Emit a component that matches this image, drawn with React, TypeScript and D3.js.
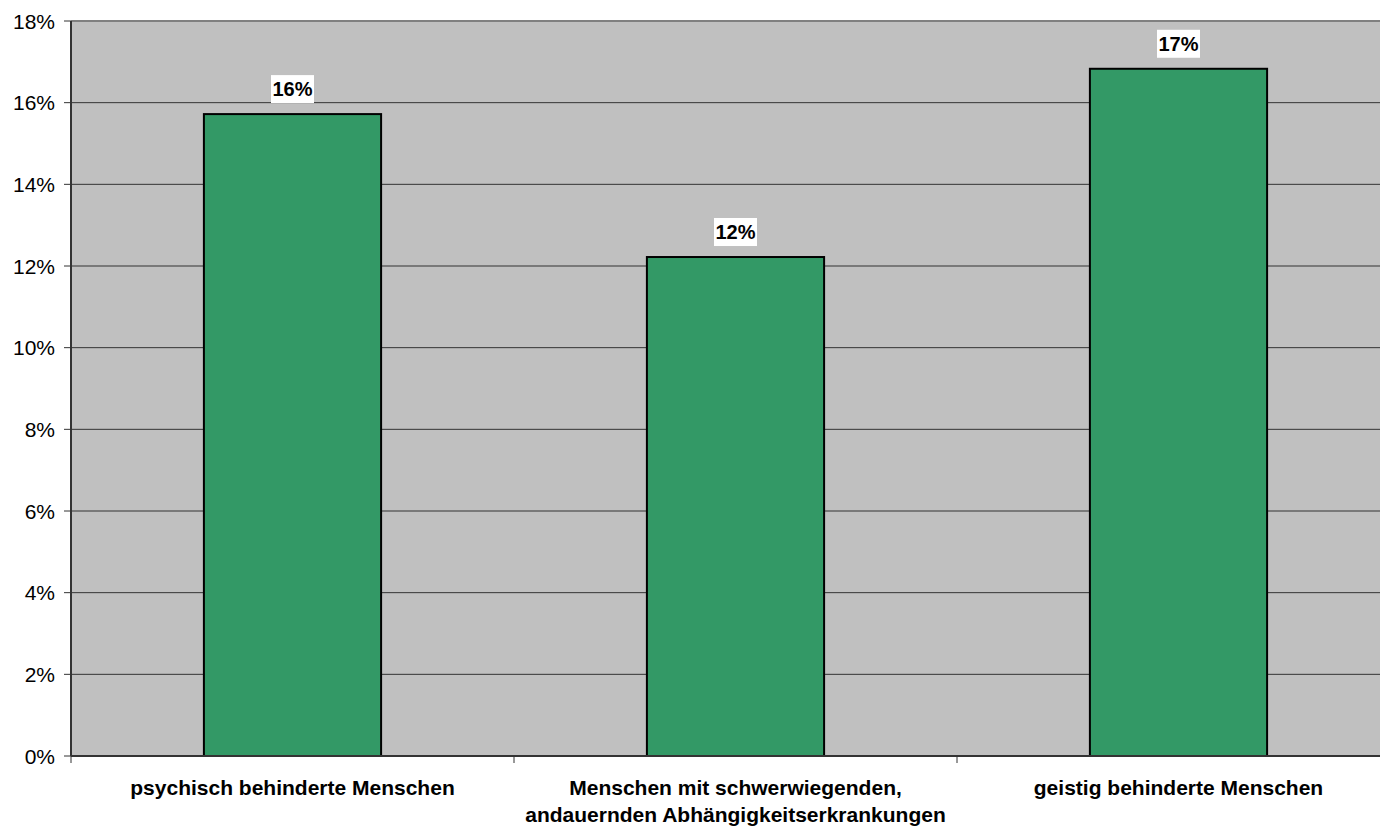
import React from "react";
import * as d3 from "d3";

const categories: string[][] = [
  ["psychisch behinderte Menschen"],
  ["Menschen mit schwerwiegenden,", "andauernden Abhängigkeitserkrankungen"],
  ["geistig behinderte Menschen"],
];
const values: number[] = [15.72, 12.22, 16.83];
const valueLabels: string[] = ["16%", "12%", "17%"];
const yTicks: number[] = [0, 2, 4, 6, 8, 10, 12, 14, 16, 18];

const W = 1380;
const H = 828;
const left = 71;
const right = 1400;
const top = 21;
const bottom = 756;
const font = "'Liberation Sans', Arial, sans-serif";

export default function App() {
  const x = d3
    .scaleBand<number>()
    .domain(categories.map((_, i) => i))
    .range([left, right])
    .paddingInner(0)
    .paddingOuter(0);
  const y = d3.scaleLinear().domain([0, 18]).range([bottom, top]);
  const bw = x.bandwidth() * 0.4;

  return (
    <svg
      width={W}
      height={H}
      style={{ position: "absolute", left: 0, top: 0, background: "#fff" }}
      fontFamily={font}
    >
      <rect x={left} y={top} width={right - left} height={bottom - top} fill="#C0C0C0" />
      {yTicks.map((t) => (
        <g key={t}>
          {t > 0 && t < 18 && (
            <line x1={left} x2={right} y1={y(t)} y2={y(t)} stroke="#333" strokeWidth={1} />
          )}
          <line x1={64} x2={left} y1={y(t)} y2={y(t)} stroke="#333" strokeWidth={1} />
          <text x={55} y={y(t)} dy="0.36em" textAnchor="end" fontSize={21} fill="#000">
            {t}%
          </text>
        </g>
      ))}
      <line x1={left} x2={right} y1={top} y2={top} stroke="#808080" strokeWidth={2} />
      {values.map((v, i) => {
        const cx = (x(i) as number) + x.bandwidth() / 2;
        return (
          <g key={i}>
            <rect
              x={cx - bw / 2}
              y={y(v)}
              width={bw}
              height={bottom - y(v)}
              fill="#339966"
              stroke="#000"
              strokeWidth={2}
            />
            <rect x={cx - 21.5} y={y(v) - 39} width={43} height={28} fill="#fff" />
            <text
              x={cx}
              y={y(v) - 25}
              dy="0.36em"
              textAnchor="middle"
              fontSize={20}
              fontWeight="bold"
              fill="#000"
            >
              {valueLabels[i]}
            </text>
          </g>
        );
      })}
      <line x1={left} x2={left} y1={top} y2={bottom} stroke="#333" strokeWidth={2} />
      <line x1={left} x2={right} y1={bottom} y2={bottom} stroke="#333" strokeWidth={2} />
      {categories.map((_, i) => (
        <line
          key={i}
          x1={x(i) as number}
          x2={x(i) as number}
          y1={bottom}
          y2={bottom + 7}
          stroke="#333"
          strokeWidth={1}
        />
      ))}
      {categories.map((lines, i) => {
        const cx = (x(i) as number) + x.bandwidth() / 2;
        return (
          <text key={i} textAnchor="middle" fontSize={21} fontWeight="bold" fill="#000">
            {lines.map((l, j) => (
              <tspan key={j} x={cx} y={795 + j * 27}>
                {l}
              </tspan>
            ))}
          </text>
        );
      })}
    </svg>
  );
}
